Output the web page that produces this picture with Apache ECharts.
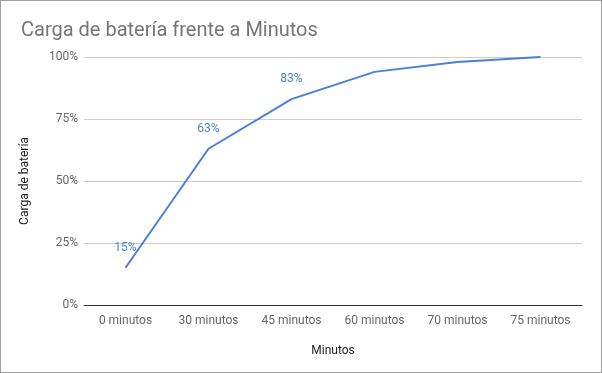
<!DOCTYPE html>
<html><head><meta charset="utf-8">
<script src="https://cdn.jsdelivr.net/npm/echarts@6/dist/echarts.min.js"></script>
<style>
html,body{margin:0;padding:0;background:#fff;}
#c{width:602px;height:373px;box-sizing:border-box;border:1px solid #9e9e9e;}
</style></head>
<body><div id="c"></div>
<script>
const categories = ['0 minutos','30 minutos','45 minutos','60 minutos','70 minutos','75 minutos'];
const charge = [15, 63, 83, 94, 98, 100];
const labelledPoints = [0, 1, 2];
const yTicks = [0, 25, 50, 75, 100];

const chart = echarts.init(document.getElementById('c'));
chart.setOption({
  animation: false,
  title: {
    text: 'Carga de batería frente a Minutos',
    left: 15, top: 15,
    textStyle: {fontFamily: 'Roboto', fontSize: 20, fontWeight: 'normal', color: '#757575'}
  },
  grid: {left: 83, right: 19, top: 56, bottom: 67},
  xAxis: {
    type: 'category',
    data: categories,
    boundaryGap: true,
    name: 'Minutos',
    nameLocation: 'middle',
    nameGap: 40,
    nameTextStyle: {fontFamily: 'Roboto', fontSize: 12, color: '#222'},
    axisLine: {lineStyle: {color: '#333', width: 1}},
    axisTick: {show: false},
    axisLabel: {fontFamily: 'Roboto', fontSize: 12, color: '#666', margin: 10}
  },
  yAxis: {
    type: 'value',
    min: yTicks[0], max: yTicks[yTicks.length-1], interval: 25,
    name: 'Carga de batería',
    nameLocation: 'middle',
    nameGap: 53,
    nameRotate: 90,
    nameTextStyle: {fontFamily: 'Roboto', fontSize: 12, color: '#222'},
    axisLine: {show: false},
    axisTick: {show: false},
    axisLabel: {fontFamily: 'Roboto', fontSize: 12, color: '#666', margin: 6, formatter: '{value}%'},
    splitLine: {lineStyle: {color: '#cccccc', width: 1}}
  },
  series: [{
    type: 'line',
    data: charge.map((v, i) => ({
      value: v,
      label: {show: labelledPoints.includes(i)}
    })),
    showSymbol: true,
    symbol: 'circle',
    symbolSize: 0,
    lineStyle: {color: '#4a7fd8', width: 2},
    itemStyle: {color: '#4a7fd8'},
    label: {
      position: 'top', distance: 14,
      formatter: p => p.value + '%',
      fontFamily: 'Roboto', fontSize: 12, color: '#4a86c8'
    }
  }]
});
</script></body></html>
